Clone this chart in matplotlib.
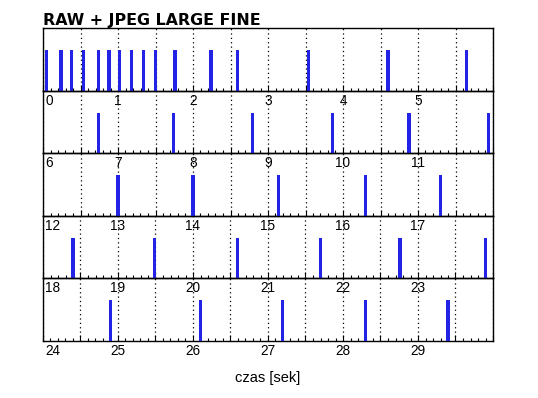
import numpy as np
import matplotlib
matplotlib.use("Agg")
import matplotlib.pyplot as plt

title = "RAW + JPEG LARGE FINE"
xlabel = "czas [sek]"
row_starts = [0, 6, 12, 18, 24]
row_span = 6
shot_times = [0.05, 0.24, 0.38, 0.54, 0.74, 0.88, 1.02, 1.18, 1.34, 1.50, 1.76,
              2.24, 2.59, 3.54, 4.60, 5.65,
              6.74, 7.74, 8.79, 9.86, 10.88, 11.94,
              13.00, 14.00, 15.14, 16.30, 17.30,
              18.40, 19.49, 20.59, 21.70, 22.76, 23.90,
              24.90, 26.10, 27.19, 28.30, 29.40]
bar_height = 0.65

W, H = 538, 398
fig = plt.figure(figsize=(W / 100, H / 100), dpi=100)
left, right, top, bottom = 43 / W, 493 / W, 1 - 28 / H, 1 - 341 / H
n = len(row_starts)
rh = (top - bottom) / n
bar_color = "#2323e6"
times = np.array(shot_times)

for i, s in enumerate(row_starts):
    ax = fig.add_axes([left, top - (i + 1) * rh, right - left, rh])
    ax.patch.set_visible(False)
    e = s + row_span
    sel = times[(times >= s) & (times < e)]
    ax.bar(sel, [bar_height] * len(sel), width=0.042, color=bar_color, align="center",
           zorder=3, linewidth=0, antialiased=False)
    ax.set_xlim(s, e)
    ax.set_ylim(0, 1)
    ax.set_yticks([])
    ax.set_xticks(np.arange(s, e + 0.01, 0.5))
    ax.set_xticks(np.arange(s, e + 0.01, 0.1), minor=True)
    ax.set_xticklabels([])
    ax.tick_params(axis="x", which="major", direction="in", length=4.5, width=0.8, color="black")
    ax.tick_params(axis="x", which="minor", direction="in", length=2.3, width=0.8, color="black")
    ax.grid(axis="x", which="major", linestyle=(0, (1, 2.5)), color="black", linewidth=0.9)
    for sp in ax.spines.values():
        sp.set_linewidth(1.0)
        sp.set_color("black")
    for k, v in enumerate(range(s, e)):
        ha = "left" if k == 0 else "center"
        dx = 2 if k == 0 else 0
        ax.annotate(str(v), xy=(v, 0), xycoords=("data", "axes fraction"),
                    xytext=(dx, -3), textcoords="offset pixels", ha=ha, va="top",
                    fontsize=9.8, family="Liberation Sans", color="black", zorder=5,
                    annotation_clip=False)

fig.text(left, 1 - 25 / H, title, fontsize=11.4, fontweight="bold",
         family="DejaVu Sans", ha="left", va="baseline")
fig.text((left + right) / 2, 1 - 382 / H, xlabel, fontsize=10.5,
         family="Liberation Sans", ha="center", va="baseline")

fig.savefig("out.png", dpi=100)
